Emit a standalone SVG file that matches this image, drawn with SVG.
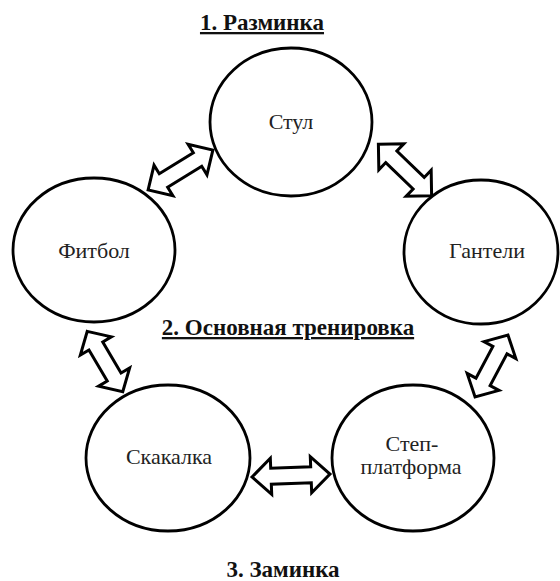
<svg xmlns="http://www.w3.org/2000/svg" width="560" height="581" viewBox="0 0 560 581">
<style>
.node ellipse{fill:#fff;stroke:#000;stroke-width:2.8}
.lbl{fill:#222;text-anchor:middle}
.ttl{font-weight:bold;fill:#111;text-anchor:middle}
.arr{fill:#fff;stroke:#000;stroke-width:3;stroke-linejoin:miter}
</style>
<rect width="560" height="581" fill="#fff"/>
<g id="titles" font-family="Liberation Serif" font-size="23">
<text class="ttl" x="262" y="30" text-decoration="underline">1. Разминка</text>
<text class="ttl" x="288" y="335" text-decoration="underline">2. Основная тренировка</text>
<text class="ttl" x="283" y="577">3. Заминка</text>
</g>
<g id="connectors">
<path class="arr" transform="translate(180.5,170) rotate(-31.6)" d="M-38,0 L-20,-18 L-20,-8 L20,-8 L20,-18 L38,0 L20,18 L20,8 L-20,8 L-20,18 Z"/>
<path class="arr" transform="translate(405,170) rotate(44)" d="M-37,0 L-19,-18 L-19,-8 L19,-8 L19,-18 L37,0 L19,18 L19,8 L-19,8 L-19,18 Z"/>
<path class="arr" transform="translate(105,361.5) rotate(59.5)" d="M-35,0 L-18,-18 L-18,-8 L18,-8 L18,-18 L35,0 L18,18 L18,8 L-18,8 L-18,18 Z"/>
<path class="arr" transform="translate(291,475.5) rotate(-2.2)" d="M-39,0 L-20,-18 L-20,-8 L20,-8 L20,-18 L39,0 L20,18 L20,8 L-20,8 L-20,18 Z"/>
<path class="arr" transform="translate(491.5,366) rotate(118)" d="M-35,0 L-18,-18 L-18,-8 L18,-8 L18,-18 L35,0 L18,18 L18,8 L-18,8 L-18,18 Z"/>
</g>
<g font-family="Liberation Serif" font-size="22">
<g id="node-stul" class="node">
<ellipse cx="291" cy="122" rx="81" ry="74"/>
<text class="lbl" x="291" y="129">Стул</text>
</g>
<g id="node-fitbol" class="node">
<ellipse cx="94" cy="250" rx="81" ry="72"/>
<text class="lbl" x="94" y="258">Фитбол</text>
</g>
<g id="node-ganteli" class="node">
<ellipse cx="481" cy="252" rx="77" ry="72"/>
<text class="lbl" x="487" y="258">Гантели</text>
</g>
<g id="node-skakalka" class="node">
<ellipse cx="168" cy="458" rx="82" ry="73"/>
<text class="lbl" x="169" y="464">Скакалка</text>
</g>
<g id="node-step" class="node">
<ellipse cx="413" cy="458" rx="81" ry="73"/>
<text class="lbl" x="412" y="451">Степ-</text>
<text class="lbl" x="411" y="474">платформа</text>
</g>
</g>
</svg>
